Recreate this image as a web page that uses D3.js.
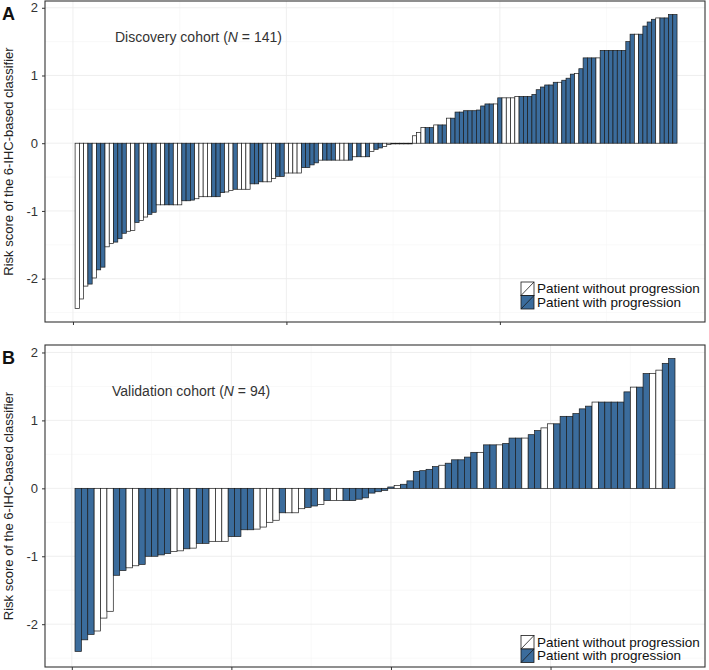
<!DOCTYPE html>
<html>
<head>
  <meta charset="UTF-8">
  <title>Risk score waterfall</title>
  <script src="https://cdnjs.cloudflare.com/ajax/libs/d3/7.8.5/d3.min.js"></script>
  <style>
    body { margin: 0; background: #fff; }
    svg { font-family: "Liberation Sans", Arial, Helvetica, sans-serif; }
    .grid-major { stroke: #ebebeb; stroke-width: 0.8; }
    .grid-minor { stroke: #f5f5f5; stroke-width: 0.6; }
    .bar { stroke: #1a1a1a; stroke-width: 0.7; }
    .tick text { font-size: 13px; fill: #333; }
    .tick line { stroke: #333; }
  </style>
</head>
<body>
<script>
// Panel A: discovery cohort, patients sorted by risk score
const valuesA = [
  -2.44, -2.30, -2.11, -2.08, -1.99, -1.87, -1.83, -1.53, -1.48, -1.46,
  -1.41, -1.33, -1.30, -1.29, -1.17, -1.14, -1.09, -1.05, -1.02, -0.91,
  -0.91, -0.91, -0.91, -0.91, -0.91, -0.85, -0.85, -0.84, -0.82, -0.79,
  -0.79, -0.79, -0.79, -0.79, -0.73, -0.72, -0.70, -0.68, -0.68, -0.68,
  -0.68, -0.60, -0.60, -0.57, -0.57, -0.57, -0.52, -0.49, -0.49, -0.44,
  -0.44, -0.44, -0.44, -0.36, -0.36, -0.32, -0.29, -0.25, -0.25, -0.25,
  -0.25, -0.25, -0.25, -0.25, -0.25, -0.20, -0.20, -0.20, -0.20, -0.12,
  -0.09, -0.07, -0.05, -0.02, -0.01, -0.01, -0.01, -0.01, -0.01, 0.11,
  0.16, 0.23, 0.23, 0.23, 0.27, 0.27, 0.27, 0.37, 0.37, 0.46,
  0.46, 0.48, 0.48, 0.48, 0.49, 0.55, 0.58, 0.58, 0.58, 0.67,
  0.67, 0.67, 0.67, 0.69, 0.69, 0.69, 0.69, 0.72, 0.79, 0.83,
  0.86, 0.86, 0.90, 0.90, 0.93, 0.96, 1.02, 1.03, 1.10, 1.26,
  1.26, 1.26, 1.26, 1.37, 1.37, 1.37, 1.37, 1.37, 1.37, 1.50,
  1.61, 1.61, 1.61, 1.73, 1.79, 1.83, 1.85, 1.85, 1.85, 1.90, 1.90
];
// 1 = patient with progression, 0 = without
const progressionA = [
  0, 0, 0, 1, 0, 1, 1, 0, 0, 1,
  1, 1, 0, 0, 1, 0, 0, 1, 1, 0,
  0, 1, 1, 0, 0, 1, 1, 1, 0, 0,
  0, 0, 1, 1, 1, 0, 0, 1, 0, 0,
  0, 1, 1, 1, 0, 0, 0, 1, 1, 0,
  0, 0, 0, 1, 1, 1, 1, 0, 1, 1,
  1, 0, 0, 0, 1, 0, 1, 0, 1, 0,
  1, 1, 0, 0, 0, 0, 0, 0, 0, 0,
  0, 0, 1, 1, 0, 1, 1, 0, 1, 1,
  1, 1, 1, 1, 1, 1, 1, 1, 0, 1,
  0, 0, 0, 0, 1, 1, 1, 1, 1, 1,
  1, 1, 1, 0, 1, 1, 1, 0, 1, 1,
  1, 1, 0, 1, 1, 1, 1, 1, 1, 1,
  1, 0, 1, 1, 1, 1, 0, 1, 1, 1, 1
];

// Panel B: validation cohort
const valuesB = [
  -2.40, -2.23, -2.15, -2.10, -1.91, -1.81, -1.28, -1.21, -1.17, -1.14,
  -1.12, -1.00, -1.00, -0.98, -0.96, -0.93, -0.92, -0.89, -0.88, -0.81,
  -0.81, -0.78, -0.78, -0.78, -0.71, -0.71, -0.61, -0.61, -0.60, -0.57,
  -0.50, -0.47, -0.36, -0.36, -0.36, -0.30, -0.28, -0.26, -0.24, -0.18,
  -0.18, -0.18, -0.18, -0.18, -0.16, -0.14, -0.07, -0.05, -0.03, 0.02,
  0.04, 0.06, 0.11, 0.25, 0.26, 0.28, 0.32, 0.34, 0.37, 0.42,
  0.42, 0.46, 0.53, 0.53, 0.64, 0.64, 0.64, 0.66, 0.74, 0.74,
  0.74, 0.79, 0.85, 0.89, 0.95, 0.95, 1.06, 1.06, 1.10, 1.17,
  1.21, 1.27, 1.27, 1.27, 1.27, 1.27, 1.42, 1.49, 1.49, 1.69,
  1.69, 1.74, 1.84, 1.91
];
const progressionB = [
  1, 1, 1, 0, 0, 0, 1, 1, 0, 0,
  1, 1, 1, 1, 1, 0, 0, 1, 0, 1,
  1, 0, 0, 0, 1, 1, 1, 1, 0, 0,
  0, 0, 1, 0, 0, 0, 1, 1, 0, 1,
  0, 0, 1, 1, 1, 1, 1, 1, 1, 1,
  0, 1, 1, 1, 1, 1, 1, 0, 1, 1,
  1, 1, 1, 0, 1, 1, 0, 1, 1, 1,
  0, 1, 1, 0, 0, 1, 1, 1, 1, 1,
  1, 0, 1, 1, 1, 1, 1, 0, 1, 1,
  0, 0, 1, 1
];

const yTicks = [-2, -1, 0, 1, 2];
const xTicksA = [0, 50, 100];
const xTicksB = [0, 25, 50, 75];
const legendLabels = ["Patient without progression", "Patient with progression"];
const fillColors = ["#ffffff", "#3b6c9c"];

const W = 709, H = 670;
const svg = d3.select("body").append("svg")
  .attr("width", W)
  .attr("height", H);

function drawPanel(opts) {
  const { values, progression, top, bottom, xDomain, yDomain, xTicks, letter, title, n } = opts;
  const left = 45, right = 705;

  const x = d3.scaleLinear().domain(xDomain).range([left, right]);
  const y = d3.scaleLinear().domain(yDomain).range([bottom, top]);
  const g = svg.append("g");

  // grid
  const minorX = xTicks.map(t => t + (xTicks[1] - xTicks[0]) / 2).filter(t => t < xDomain[1]);
  const minorY = yTicks.slice(0, -1).map(t => t + 0.5).concat([-2.5]);
  g.selectAll(".gmy").data(minorY).enter().append("line")
    .attr("class", "grid-minor")
    .attr("x1", left).attr("x2", right)
    .attr("y1", d => y(d)).attr("y2", d => y(d));
  g.selectAll(".gmx").data(minorX).enter().append("line")
    .attr("class", "grid-minor")
    .attr("y1", top).attr("y2", bottom)
    .attr("x1", d => x(d)).attr("x2", d => x(d));
  g.selectAll(".gy").data(yTicks).enter().append("line")
    .attr("class", "grid-major")
    .attr("x1", left).attr("x2", right)
    .attr("y1", d => y(d)).attr("y2", d => y(d));
  g.selectAll(".gx").data(xTicks).enter().append("line")
    .attr("class", "grid-major")
    .attr("y1", top).attr("y2", bottom)
    .attr("x1", d => x(d)).attr("x2", d => x(d));

  // bars
  const bw = x(1) - x(0);
  g.selectAll(".bar").data(values).enter().append("rect")
    .attr("class", "bar")
    .attr("x", (d, i) => x(i + 0.5))
    .attr("width", bw)
    .attr("y", d => y(Math.max(0, d)))
    .attr("height", d => Math.abs(y(d) - y(0)))
    .attr("fill", (d, i) => fillColors[progression[i]]);

  // panel border
  g.append("rect")
    .attr("x", left).attr("y", top)
    .attr("width", right - left).attr("height", bottom - top)
    .attr("fill", "none").attr("stroke", "#333").attr("stroke-width", 1.1);

  // axes
  const xAxis = d3.axisBottom(x).tickValues(xTicks).tickFormat("").tickSize(3).tickSizeOuter(0);
  g.append("g").attr("transform", `translate(0,${bottom})`).call(xAxis)
    .call(s => s.select(".domain").remove());
  const yAxis = d3.axisLeft(y).tickValues(yTicks).tickFormat(d => String(d)).tickSize(3).tickPadding(4);
  g.append("g").attr("transform", `translate(${left},0)`).call(yAxis)
    .call(s => s.select(".domain").remove());

  // y title
  g.append("text")
    .attr("transform", `translate(13,${(top + bottom) / 2}) rotate(-90)`)
    .attr("text-anchor", "middle")
    .attr("font-size", 13)
    .attr("fill", "#222")
    .text("Risk score of the 6-IHC-based classifier");

  // panel letter
  g.append("text")
    .attr("x", 2).attr("y", top + 19)
    .attr("font-size", 18).attr("font-weight", "bold")
    .attr("fill", "#111")
    .text(letter);

  // cohort annotation
  const ann = g.append("text")
    .attr("x", opts.annX).attr("y", top + opts.annDy)
    .attr("font-size", 14).attr("fill", "#333");
  ann.append("tspan").text(title + " (");
  ann.append("tspan").attr("font-style", "italic").text("N");
  ann.append("tspan").text(" = " + n + ")");

  // legend
  const kh = 13.5;
  const lg = g.append("g").attr("transform", `translate(521,${opts.legendTop})`);
  legendLabels.forEach((lab, k) => {
    const ky = k * kh;
    lg.append("rect")
      .attr("x", 0).attr("y", ky).attr("width", 13).attr("height", kh)
      .attr("fill", fillColors[k]).attr("stroke", "#1a1a1a").attr("stroke-width", 0.8);
    lg.append("line")
      .attr("x1", 0).attr("y1", ky + kh).attr("x2", 13).attr("y2", ky)
      .attr("stroke", "#1a1a1a").attr("stroke-width", 0.8);
    lg.append("text")
      .attr("x", 16).attr("y", ky + 11)
      .attr("font-size", 13.5).attr("fill", "#111")
      .text(lab);
  });
}

drawPanel({
  values: valuesA, progression: progressionA,
  top: 1, bottom: 322,
  xDomain: [-6.55, 148.05], yDomain: [-2.64, 2.10],
  xTicks: xTicksA, letter: "A",
  title: "Discovery cohort", n: valuesA.length,
  annX: 115, annDy: 41, legendTop: 282
});

drawPanel({
  values: valuesB, progression: progressionB,
  top: 345, bottom: 667,
  xDomain: [-4.2, 99.2], yDomain: [-2.63, 2.11],
  xTicks: xTicksB, letter: "B",
  title: "Validation cohort", n: valuesB.length,
  annX: 112, annDy: 51, legendTop: 635.5
});
</script>
</body>
</html>
